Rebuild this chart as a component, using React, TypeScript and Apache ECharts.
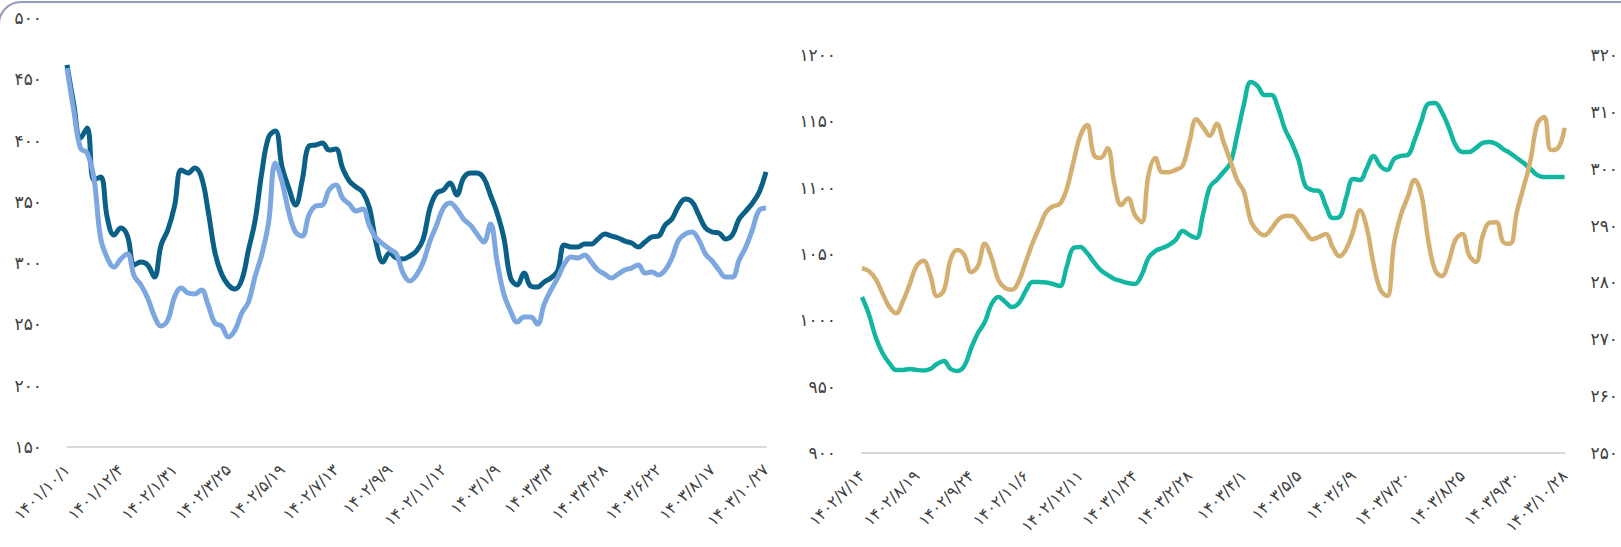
import React, { useEffect, useRef } from "react";
import * as echarts from "echarts";

const leftTickLabels = ["۱۴۰۱/۱۰/۱", "۱۴۰۱/۱۲/۴", "۱۴۰۲/۱/۳۱", "۱۴۰۲/۳/۲۵", "۱۴۰۲/۵/۱۹", "۱۴۰۲/۷/۱۳", "۱۴۰۲/۹/۹", "۱۴۰۲/۱۱/۱۲", "۱۴۰۳/۱/۹", "۱۴۰۳/۳/۳", "۱۴۰۳/۴/۲۸", "۱۴۰۳/۶/۲۲", "۱۴۰۳/۸/۱۷", "۱۴۰۳/۱۰/۲۷"];
const rightTickLabels = ["۱۴۰۲/۷/۱۴", "۱۴۰۲/۸/۱۹", "۱۴۰۲/۹/۲۴", "۱۴۰۲/۱۱/۶", "۱۴۰۲/۱۲/۱۱", "۱۴۰۳/۱/۲۴", "۱۴۰۳/۲/۲۸", "۱۴۰۳/۴/۱", "۱۴۰۳/۵/۵", "۱۴۰۳/۶/۹", "۱۴۰۳/۷/۲۰", "۱۴۰۳/۸/۲۵", "۱۴۰۳/۹/۳۰", "۱۴۰۳/۱۰/۲۸"];

const darkSeries = [461.7, 429.8, 402, 410.2, 367.8, 370.3, 336.8, 322.9, 328.6, 322.1,
  298.5, 300.9, 298.5, 288.7, 314.8, 327, 346.6, 376, 373.5, 377.6,
  370.3, 342.5, 309, 291.1, 282.2, 278.9, 286.2, 310.7, 335.2, 374.4,
  402.9, 407.8, 378.4, 361.3, 347.4, 367.8, 395.6, 396.4, 398, 392.3,
  393.1, 377.6, 367, 362.1, 358, 345, 316.4, 300.9, 308.3, 304.2,
  303.4, 305.8, 309.9, 319.7, 345, 357.2, 359.7, 365.4, 355.6, 369.5,
  373.5, 373.5, 369.5, 355.6, 340.9, 320.5, 287.9, 282.2, 292, 281.3,
  280.5, 284.6, 287.9, 293.6, 314.8, 313.2, 313.2, 315.6, 315.6, 319.7,
  323.8, 322.1, 320.5, 318, 316.4, 313.2, 317.2, 321.3, 322.1, 331.1,
  336, 346.6, 352.3, 349.9, 339.3, 328.7, 325.4, 324.6, 319.7, 323,
  336, 342.5, 349.1, 358, 374.4];

const lightSeries = [459.2, 424.9, 393.9, 389.9, 369.5, 320.5, 304.2, 296.8, 303.4, 307.4,
  289.5, 282.2, 271.6, 256.9, 248.7, 253.6, 272.4, 279.7, 275.6, 274.8,
  278.1, 265.8, 251.1, 248.7, 239.7, 245.4, 259.3, 268.3, 289.5, 307.4,
  333.5, 381.7, 366.2, 341.7, 325.4, 322.1, 339.3, 346.6, 347.4, 359.7,
  363.8, 353.1, 348.2, 342.5, 344.1, 330.3, 320.5, 315.6, 311.5, 307.4,
  291.9, 285.4, 290.3, 300.9, 318, 331.1, 345, 349.1, 344.1, 336,
  331.1, 323.8, 317.2, 331.9, 300.9, 274.8, 260.9, 251.9, 256, 256,
  250.3, 266.6, 278.1, 287.9, 299.3, 305, 304.2, 306.6, 300.9, 294.4,
  291.1, 287.9, 291.1, 294.4, 296, 298.5, 291.9, 292.8, 290.3, 294.4,
  304.2, 318.9, 323.8, 325.4, 318.9, 307.4, 301.7, 294.4, 288.7, 288.7,
  302.5, 313.2, 327.8, 343.3, 344.9];

const tealSeries = [1017.6, 1004.8, 987.4, 975.4, 967.8, 962.6, 962.6, 963.3, 962.6, 962.2,
  963.3, 967.1, 969.4, 963.3, 961.8, 965.6, 979.1, 990.4, 998.7, 1012.3,
  1017.6, 1013.8, 1010, 1013, 1022.1, 1028.9, 1028.9, 1028.5, 1027.4, 1025.9,
  1040.2, 1054.5, 1055.3, 1050.7, 1043.9, 1037.9, 1034.2, 1031.2, 1029.6, 1028.1,
  1027.4, 1034.2, 1047, 1052.3, 1054.5, 1056.8, 1060.6, 1067.3, 1064.3, 1062.1,
  1080.1, 1100.5, 1105.8, 1111.8, 1118.6, 1139.7, 1163.1, 1179.6, 1176.6, 1169.8,
  1169.8, 1160, 1144.2, 1133.7, 1120.9, 1101.3, 1098.2, 1097.5, 1086.2, 1077.1,
  1077.9, 1093, 1106.5, 1105.8, 1114.8, 1123.9, 1116.3, 1113.3, 1121.6, 1123.9,
  1124.6, 1135.9, 1150.2, 1163.1, 1163.8, 1157, 1145.7, 1132.2, 1126.9, 1126.9,
  1129.9, 1133.7, 1134.4, 1132.9, 1129.1, 1126.1, 1122.4, 1118.6, 1114.1, 1109.5,
  1108, 1108, 1108, 1108];

const tanSeries = [282.5, 282, 280.6, 278.1, 275.7, 274.6, 276.7, 279.7, 282.9, 283.8,
  281.3, 277.6, 278.6, 284.1, 285.7, 284.8, 281.8, 282.9, 286.8, 284.3,
  280.4, 279, 278.7, 280.3, 283.6, 286.9, 289.7, 292.4, 293.4, 293.8,
  296.4, 301.2, 305.8, 307.7, 302.4, 301.9, 303.6, 297.3, 293.6, 294.8,
  291.9, 290.6, 298.9, 301.9, 299.4, 299.4, 299.8, 300.5, 304.7, 308.7,
  307.3, 305.8, 307.9, 304.7, 301.4, 298, 295.9, 290.8, 289, 288.3,
  289.4, 291, 291.7, 291.7, 290.5, 288.9, 287.6, 288, 288.5, 286.2,
  284.6, 285.9, 289, 292.7, 289.6, 283.2, 278.7, 277.6, 286.9, 291.9,
  295, 298, 295.4, 287.5, 282.2, 281.1, 283.6, 287.5, 288.5, 284.8,
  283.6, 288.2, 290.5, 290.6, 287.1, 286.8, 292.4, 296.8, 301.5, 307.9,
  309.1, 303.3, 303.6, 307.2];

const LEFT_STEP = 8;
const RIGHT_STEP = 8;

function buildCategories(count: number, labels: string[], step: number): string[] {
  const out: string[] = [];
  for (let i = 0; i < count; i++) {
    if (i % step === 0 && i / step < labels.length - 1) out.push(labels[i / step]);
    else if (i === count - 1) out.push(labels[labels.length - 1]);
    else out.push("");
  }
  return out;
}

const FA = "۰۱۲۳۴۵۶۷۸۹";
const toFa = (v: number | string) => String(v).replace(/[0-9]/g, (d) => FA[Number(d)]);

const FONT = "DejaVu Sans";
const LABEL_COLOR = "#404040";

export default function App() {
  const ref = useRef<HTMLDivElement>(null);

  useEffect(() => {
    if (!ref.current) return;
    const chart = echarts.init(ref.current, undefined, { renderer: "svg" });
    const leftCats = buildCategories(darkSeries.length, leftTickLabels, LEFT_STEP);
    const rightCats = buildCategories(tealSeries.length, rightTickLabels, RIGHT_STEP);

    const xCommon = {
      type: "category" as const,
      boundaryGap: false,
      axisLine: { lineStyle: { color: "#d9d9d9", width: 2 } },
      axisTick: { show: false },
      axisLabel: {
        interval: 0,
        rotate: 45,
        color: LABEL_COLOR,
        fontSize: 16,
        fontFamily: FONT,
        margin: 20,
      },
    };
    const yCommon = {
      type: "value" as const,
      splitLine: { show: false },
      axisLine: { show: false },
      axisTick: { show: false },
    };
    const yLabel = { formatter: (v: number) => toFa(v), margin: 25, color: LABEL_COLOR, fontSize: 17, fontFamily: FONT };

    chart.setOption({
      animation: false,
      backgroundColor: "#ffffff",
      grid: [
        { left: 67, top: 18, width: 699, height: 429 },
        { left: 862, top: 55, width: 705, height: 398 },
      ],
      xAxis: [
        { ...xCommon, gridIndex: 0, data: leftCats },
        { ...xCommon, gridIndex: 1, data: rightCats },
      ],
      yAxis: [
        { ...yCommon, gridIndex: 0, min: 150, max: 500, interval: 50, axisLabel: yLabel },
        { ...yCommon, gridIndex: 1, position: "left", min: 900, max: 1200, interval: 50, axisLabel: { ...yLabel, margin: 26 } },
        { ...yCommon, gridIndex: 1, position: "right", min: 250, max: 320, interval: 10, axisLabel: { ...yLabel, margin: 26 } },
      ],
      series: [
        {
          type: "line", xAxisIndex: 0, yAxisIndex: 0, data: darkSeries, smooth: 0.4,
          symbol: "none", lineStyle: { color: "#0b6087", width: 5 }, itemStyle: { color: "#0b6087" },
        },
        {
          type: "line", xAxisIndex: 0, yAxisIndex: 0, data: lightSeries, smooth: 0.4,
          symbol: "none", lineStyle: { color: "#7da7e1", width: 5 }, itemStyle: { color: "#7da7e1" },
        },
        {
          type: "line", xAxisIndex: 1, yAxisIndex: 1, data: tealSeries, smooth: 0.4,
          symbol: "none", lineStyle: { color: "#13b7a1", width: 4.5 }, itemStyle: { color: "#13b7a1" },
        },
        {
          type: "line", xAxisIndex: 1, yAxisIndex: 2, data: tanSeries, smooth: 0.4,
          symbol: "none", lineStyle: { color: "#d4af6f", width: 4.5 }, itemStyle: { color: "#d4af6f" },
        },
      ],
      graphic: [
        {
          type: "rect",
          shape: { x: -1, y: 2, width: 1650, height: 620, r: 22 },
          style: { fill: "none", stroke: "#959bb8", lineWidth: 2 },
          silent: true,
          z: 100,
        },
      ],
    });
    return () => chart.dispose();
  }, []);

  return (
    <div
      ref={ref}
      style={{ position: "fixed", left: 0, top: 0, width: 1621, height: 547, background: "#fff" }}
    />
  );
}
